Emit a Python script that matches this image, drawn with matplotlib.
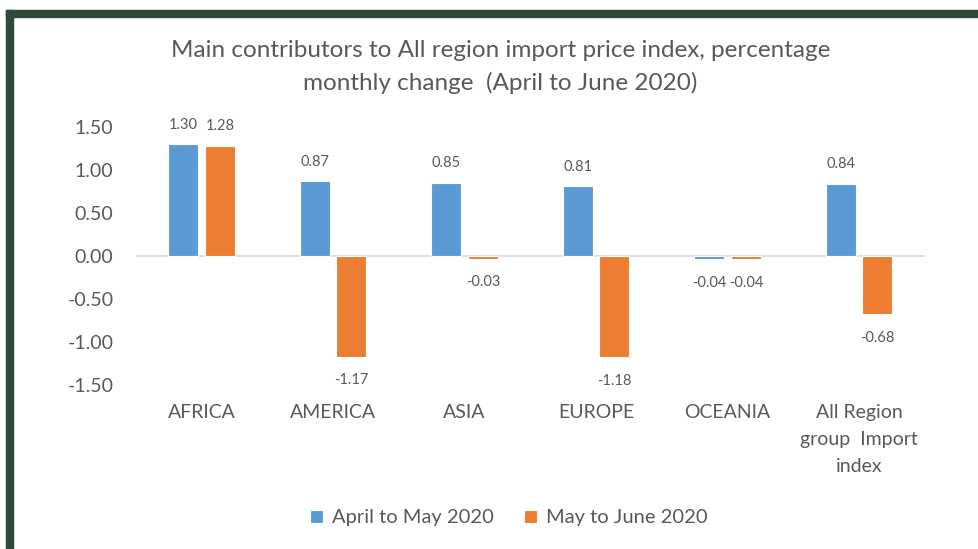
import matplotlib
matplotlib.use("Agg")
import matplotlib.pyplot as plt
from matplotlib.patches import Rectangle
import numpy as np

categories = ["AFRICA", "AMERICA", "ASIA", "EUROPE", "OCEANIA", "All Region\ngroup  Import\nindex"]
april_may = [1.30, 0.87, 0.85, 0.81, -0.04, 0.84]
may_june = [1.28, -1.17, -0.03, -1.18, -0.04, -0.68]
series_names = ["April to May 2020", "May to June 2020"]
yticks = [1.50, 1.00, 0.50, 0.00, -0.50, -1.00, -1.50]

blue = "#5b9bd5"
orange = "#ed7d31"
grey = "#595959"

plt.rcParams["font.family"] = ["Lato", "DejaVu Sans"]

fig = plt.figure(figsize=(9.79, 5.49), dpi=100)
ax = fig.add_axes([0.1387, 0.2987, 0.8059, 0.47])

x = np.arange(len(categories))
w = 0.228
off = 0.14
b1 = ax.bar(x - off, april_may, w, color=blue, edgecolor="white", linewidth=0.8, label=series_names[0])
b2 = ax.bar(x + off, may_june, w, color=orange, edgecolor="white", linewidth=0.8, label=series_names[1])

for bars, vals in [(b1, april_may), (b2, may_june)]:
    for b, v in zip(bars, vals):
        cx = b.get_x() + b.get_width() / 2
        dy = 14 if v >= 0 else -17
        ax.annotate(f"{v:.2f}", (cx, v), xytext=(0, dy), textcoords="offset points",
                    ha="center", va="center", fontsize=10.5, color=grey)

ax.set_xlim(-0.5, len(categories) - 0.5)
ax.set_ylim(-1.5, 1.5)
ax.set_yticks(yticks)
ax.set_yticklabels([f"{t:.2f}" for t in yticks], fontsize=14, color=grey)
ax.set_xticks(x)
ax.set_xticklabels(categories, fontsize=14, color=grey, linespacing=1.7, va="top")
ax.tick_params(axis="y", length=0, pad=16)
ax.tick_params(axis="x", length=0, pad=14)
for s in ax.spines.values():
    s.set_visible(False)
ax.axhline(0, color="#d9d9d9", linewidth=1.2, zorder=0)

fig.text(0.511, 0.878, "Main contributors to All region import price index, percentage\nmonthly change  (April to June 2020)",
         ha="center", va="center", fontsize=17.5, color=grey, linespacing=1.6)

fig.legend(handles=[b1, b2], labels=series_names, loc="center", bbox_to_anchor=(0.52, 0.0565),
           ncol=2, frameon=False, fontsize=14.5, labelcolor=grey, handlelength=0.65, handleheight=0.65,
           columnspacing=1.5, handletextpad=0.45)

# dark green frame on top and left
border = "#2d4a3a"
fig.patches.append(Rectangle((6 / 979, 1 - 17 / 549), 1, 7 / 549, transform=fig.transFigure,
                             color=border, zorder=5))
fig.patches.append(Rectangle((6 / 979, 0), 7 / 979, 1 - 10 / 549, transform=fig.transFigure,
                             color=border, zorder=5))

fig.savefig("out.png", dpi=100)
